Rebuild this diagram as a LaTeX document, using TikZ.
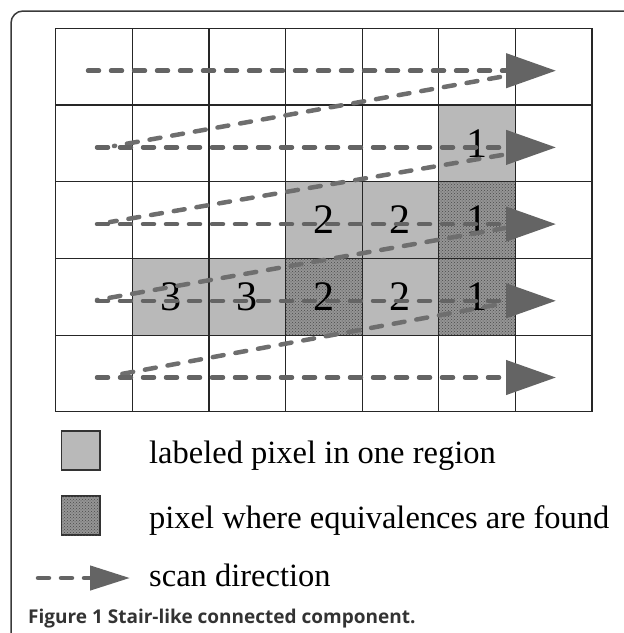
\documentclass[tikz,border=0pt]{standalone}
\usepackage{fontspec}
\setmainfont{Liberation Serif}
\newfontfamily\capfont{Open Sans}
\usepackage{xcolor}
\usepackage{tikz}
\usetikzlibrary{arrows.meta,patterns}

\definecolor{cellgray}{HTML}{B9B9B9}
\definecolor{eqgray}{HTML}{959595}
\definecolor{eqdots}{HTML}{4A4A4A}
\definecolor{scangray}{HTML}{6E6E6E}
\definecolor{headgray}{HTML}{646464}
\definecolor{framegray}{HTML}{3A3A3A}

\tikzset{
  labcell/.style={fill=cellgray},
  eqcell/.style={fill=eqgray, postaction={pattern=crosshatch dots, pattern color=eqdots}},
  scanline/.style={draw=scangray, line width=4.5pt, line cap=round, dash pattern=on 11pt off 12pt},
  scanhead/.style={-{Triangle[length=50pt,width=34pt]}, headgray},
  digit/.style={font=\fontsize{42}{42}\selectfont, inner sep=0pt},
  legtext/.style={anchor=base west, font=\fontsize{32.5}{34}\selectfont, inner sep=0pt}
}

\begin{document}
\begin{tikzpicture}[x=1pt,y=-1pt]
  \clip (0,0) rectangle (624,633);
  % outer frame
  \draw[framegray, line width=1.5pt, rounded corners=12pt] (11,11) rectangle (660,680);

  % pixel grid
  \begin{scope}[shift={(55.7,28.3)}, x=76.6pt, y=-76.7pt]
    \fill[labcell] (5,1) rectangle (6,2);
    \fill[labcell] (3,2) rectangle (5,3);
    \fill[eqcell] (5,2) rectangle (6,3);
    \fill[labcell] (1,3) rectangle (3,4);
    \fill[eqcell] (3,3) rectangle (4,4);
    \fill[labcell] (4,3) rectangle (5,4);
    \fill[eqcell] (5,3) rectangle (6,4);
    \foreach \c in {0,...,7}
      \draw[black!85, line width=1.2pt] (\c,0) -- (\c,5);
    \foreach \r in {0,...,5}
      \draw[black!85, line width=1.2pt] (0,\r) -- (7,\r);
    \node[digit] (p21) at (5.5,1.5) {1};
    \node[digit] (p33) at (3.5,2.5) {2};
    \node[digit] (p34) at (4.5,2.5) {2};
    \node[digit] (p35) at (5.5,2.5) {1};
    \node[digit] (p41) at (1.5,3.5) {3};
    \node[digit] (p42) at (2.5,3.5) {3};
    \node[digit] (p43) at (3.5,3.5) {2};
    \node[digit] (p44) at (4.5,3.5) {2};
    \node[digit] (p45) at (5.5,3.5) {1};
  \end{scope}

  % scan path
  \coordinate (row1a) at (88,70.7);
  \coordinate (row1b) at (556,70.7);
  \coordinate (row2a) at (97,147.4);
  \coordinate (row2b) at (556,147.4);
  \coordinate (row3a) at (97,224.1);
  \coordinate (row3b) at (556,224.1);
  \coordinate (row4a) at (97,300.8);
  \coordinate (row4b) at (556,300.8);
  \coordinate (row5a) at (97,377.5);
  \coordinate (row5b) at (556,377.5);
  \coordinate (back1) at (500,77);
  \coordinate (land1) at (114,146);
  \coordinate (back2) at (502,155);
  \coordinate (land2) at (110,222);
  \coordinate (back3) at (528,224);
  \coordinate (land3) at (97,300);
  \coordinate (back4) at (495,305);
  \coordinate (land4) at (116,375);

  \draw[scanline] (back1) -- (land1);
  \draw[scanline] (back2) -- (land2);
  \draw[scanline] (back3) -- (land3);
  \draw[scanline] (back4) -- (land4);
  \draw[scanline, scanhead] (row1a) -- (row1b);
  \draw[scanline, scanhead] (row2a) -- (row2b);
  \draw[scanline, scanhead] (row3a) -- (row3b);
  \draw[scanline, scanhead] (row4a) -- (row4b);
  \draw[scanline, scanhead] (row5a) -- (row5b);

  % legend
  \draw[labcell, draw=black!80, line width=1.5pt] (61.7,431) rectangle (100,470);
  \node[legtext] (leglab) at (149,463) {labeled pixel in one region};
  \draw[eqcell, draw=black!80, line width=1.5pt] (61.7,496) rectangle (100,535);
  \node[legtext] (legeq) at (149,528) {pixel where equivalences are found};
  \coordinate (legscana) at (38,578);
  \coordinate (legscanb) at (130,578);
  \draw[scanline, -{Triangle[length=40pt,width=24pt]}, headgray] (legscana) -- (legscanb);
  \node[legtext] (legscan) at (149,586) {scan direction};

  % caption
  \node[anchor=base west, inner sep=0pt, text=black!80, font=\capfont\bfseries\fontsize{19}{21}\selectfont] (caption) at (28,623) {Figure 1 Stair-like connected component.};
\end{tikzpicture}
\end{document}
